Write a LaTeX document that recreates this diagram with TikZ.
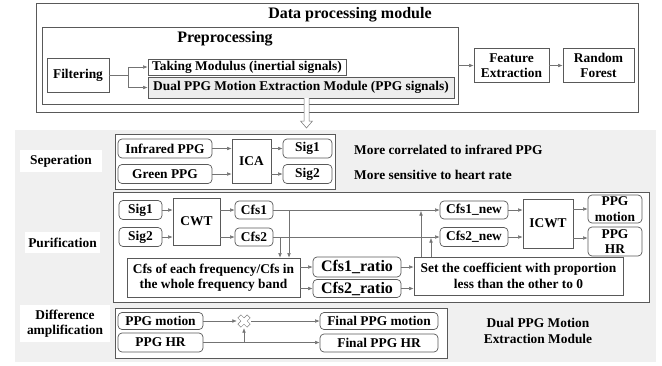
\documentclass[tikz,border=0pt]{standalone}
\usepackage{fontspec}
\setmainfont{Liberation Serif}
\usetikzlibrary{arrows.meta}

\begin{document}
\begin{tikzpicture}[x=1pt,y=-1pt,
  every node/.style={font=\bfseries\fontsize{13.4}{15.5}\selectfont,inner sep=0pt,align=center},
  title/.style={font=\bfseries\fontsize{16}{18}\selectfont},
  frame/.style={draw=black!65,line width=.8pt},
  box/.style={draw=black!65,line width=.7pt,fill=white},
  rbox/.style={box,rounded corners=4pt},
  tag/.style={fill=white,inner sep=2pt},
  wire/.style={draw=black!55,line width=.5pt},
  link/.style={wire,-{Latex[length=4.5pt,width=3.6pt]}}]
\useasboundingbox (0,0) rectangle (662,365);
\fill[black!6] (15,130) rectangle (656,362);

\node[frame,minimum width=602,minimum height=109] (dpm) at (337,57.5) {};
\node[title] (dpmtitle) at (350,15) {Data processing module};
\node[frame,minimum width=416,minimum height=77] (prep) at (250,65.5) {};
\node[title] (preptitle) at (225,39) {Preprocessing};
\node[box,minimum width=62,minimum height=34] (filt) at (78,75) {Filtering};
\node[box,minimum width=198,minimum height=16] (taking) at (247,67) {Taking Modulus (inertial signals)};
\node[box,fill=black!7,minimum width=306,minimum height=21] (dual) at (301,87.5) {Dual PPG Motion Extraction Module (PPG signals)};
\node[box,minimum width=75,minimum height=34] (feat) at (511.5,65.5) {Feature\\Extraction};
\node[box,minimum width=71,minimum height=34] (rf) at (598.5,65.5) {Random\\Forest};
\coordinate (fork) at (128,75);
\draw[wire] (filt) -- (fork);
\draw[link] (fork) |- (taking);
\draw[link] (fork) |- (dual);
\draw[link] (prep) -- (feat);
\draw[link] (feat) -- (rf);
\draw[draw=black!55,fill=white,line width=.5pt] (304,98) -- (304,121) -- (300.5,121) -- (306.5,128) -- (312.5,121) -- (309,121) -- (309,98);

\node[tag,minimum width=82,minimum height=22] (seplbl) at (61,161) {Seperation};
\node[tag,minimum width=75,minimum height=21] (purlbl) at (62.5,242.5) {Purification};
\node[tag,minimum width=90,minimum height=37] (difflbl) at (65,323.5) {Difference\\amplification};

\node[box,minimum width=220,minimum height=55] (sepbox) at (225,161.5) {};
\node[rbox,minimum width=94,minimum height=19] (infra) at (165,148.5) {Infrared PPG};
\node[rbox,minimum width=94,minimum height=19] (green) at (165,174) {Green PPG};
\node[box,minimum width=39,minimum height=44] (ica) at (251.5,161) {ICA};
\node[rbox,minimum width=49,minimum height=19] (sigA) at (307.5,148.5) {Sig1};
\node[rbox,minimum width=49,minimum height=19] (sigB) at (307.5,174) {Sig2};
\draw[link] (infra) -- (infra -| ica.west);
\draw[link] (green) -- (green -| ica.west);
\draw[link] (ica.east |- sigA) -- (sigA);
\draw[link] (ica.east |- sigB) -- (sigB);
\node[anchor=west] (corr) at (354,150) {More correlated to infrared PPG};
\node[anchor=west] (sens) at (354,175) {More sensitive to heart rate};

\node[box,minimum width=536,minimum height=110] (purbox) at (381,247) {};
\node[rbox,minimum width=43,minimum height=19] (pSigA) at (140.5,210) {Sig1};
\node[rbox,minimum width=43,minimum height=19] (pSigB) at (140.5,237) {Sig2};
\node[box,minimum width=47,minimum height=47] (cwt) at (196.5,221.5) {CWT};
\node[rbox,minimum width=38,minimum height=18] (cfsA) at (254,210) {Cfs1};
\node[rbox,minimum width=38,minimum height=18] (cfsB) at (254,237) {Cfs2};
\node[box,minimum width=173,minimum height=39] (ratio) at (213.5,277.5) {Cfs of each frequency/Cfs in\\the whole frequency band};
\node[rbox,font=\bfseries\fontsize{16}{18}\selectfont,minimum width=88,minimum height=20] (rA) at (357,267) {Cfs1\_ratio};
\node[rbox,font=\bfseries\fontsize{16}{18}\selectfont,minimum width=88,minimum height=18] (rB) at (357,288.5) {Cfs2\_ratio};
\node[box,minimum width=209,minimum height=38] (set) at (518.5,276) {Set the coefficient with proportion\\less than the other to 0};
\node[rbox,minimum width=68,minimum height=18] (newA) at (474,210) {Cfs1\_new};
\node[rbox,minimum width=68,minimum height=19] (newB) at (474,237) {Cfs2\_new};
\node[box,minimum width=50,minimum height=49] (icwt) at (548,223.5) {ICWT};
\node[rbox,minimum width=54,minimum height=28] (motion) at (615,209) {PPG\\motion};
\node[rbox,minimum width=54,minimum height=29] (hr) at (615,241.5) {PPG\\HR};
\draw[link] (pSigA) -- (pSigA -| cwt.west);
\draw[link] (pSigB) -- (pSigB -| cwt.west);
\draw[link] (cwt.east |- cfsA) -- (cfsA);
\draw[link] (cwt.east |- cfsB) -- (cfsB);
\draw[link] (cfsA) -- (newA);
\draw[link] (cfsB) -- (newB);
\coordinate (tapA) at (289,210);
\coordinate (tapB) at (280,237);
\draw[link] (tapA) -- (tapA |- ratio.north);
\draw[link] (tapB) -- (tapB |- ratio.north);
\draw[link] (ratio.east |- rA) -- (rA);
\draw[link] (ratio.east |- rB) -- (rB);
\draw[link] (rA) -- (rA -| set.west);
\draw[link] (rB) -- (rB -| set.west);
\coordinate (upA) at (421,211);
\coordinate (upB) at (431,238);
\draw[link] (upA |- set.north) -- (upA);
\draw[link] (upB |- set.north) -- (upB);
\draw[link] (newA) -- (newA -| icwt.west);
\draw[link] (newB) -- (newB -| icwt.west);
\draw[link] (icwt.east |- motion) -- (motion);
\draw[link] (icwt.east |- 0,238) -- (hr.west |- 0,238);

\node[box,minimum width=332,minimum height=50] (diffbox) at (281,333) {};
\node[rbox,minimum width=85,minimum height=17] (dMot) at (160.5,321) {PPG motion};
\node[rbox,minimum width=85,minimum height=19] (dHR) at (160.5,342.5) {PPG HR};
\node[minimum size=14] (mul) at (244,321) {};
\draw[draw=black!50,line width=.5pt,shift={(mul)},rotate=45] (2.2,6.5) -- (2.2,2.2) -- (6.5,2.2) -- (6.5,-2.2) -- (2.2,-2.2) -- (2.2,-6.5) -- (-2.2,-6.5) -- (-2.2,-2.2) -- (-6.5,-2.2) -- (-6.5,2.2) -- (-2.2,2.2) -- (-2.2,6.5) -- cycle;
\node[rbox,minimum width=118,minimum height=17] (fMot) at (379,321) {Final PPG motion};
\node[rbox,minimum width=118,minimum height=18] (fHR) at (379,343) {Final PPG HR};
\draw[link] (dMot) -- (mul.west);
\draw[link] (mul.east) -- (mul.east -| fMot.west);
\draw[link] (dHR) -- (dHR -| fHR.west);
\draw[link] (mul.south |- dHR) -- (mul.south);
\node (dualtxt) at (538,331) {Dual PPG Motion\\Extraction Module};
\end{tikzpicture}
\end{document}
